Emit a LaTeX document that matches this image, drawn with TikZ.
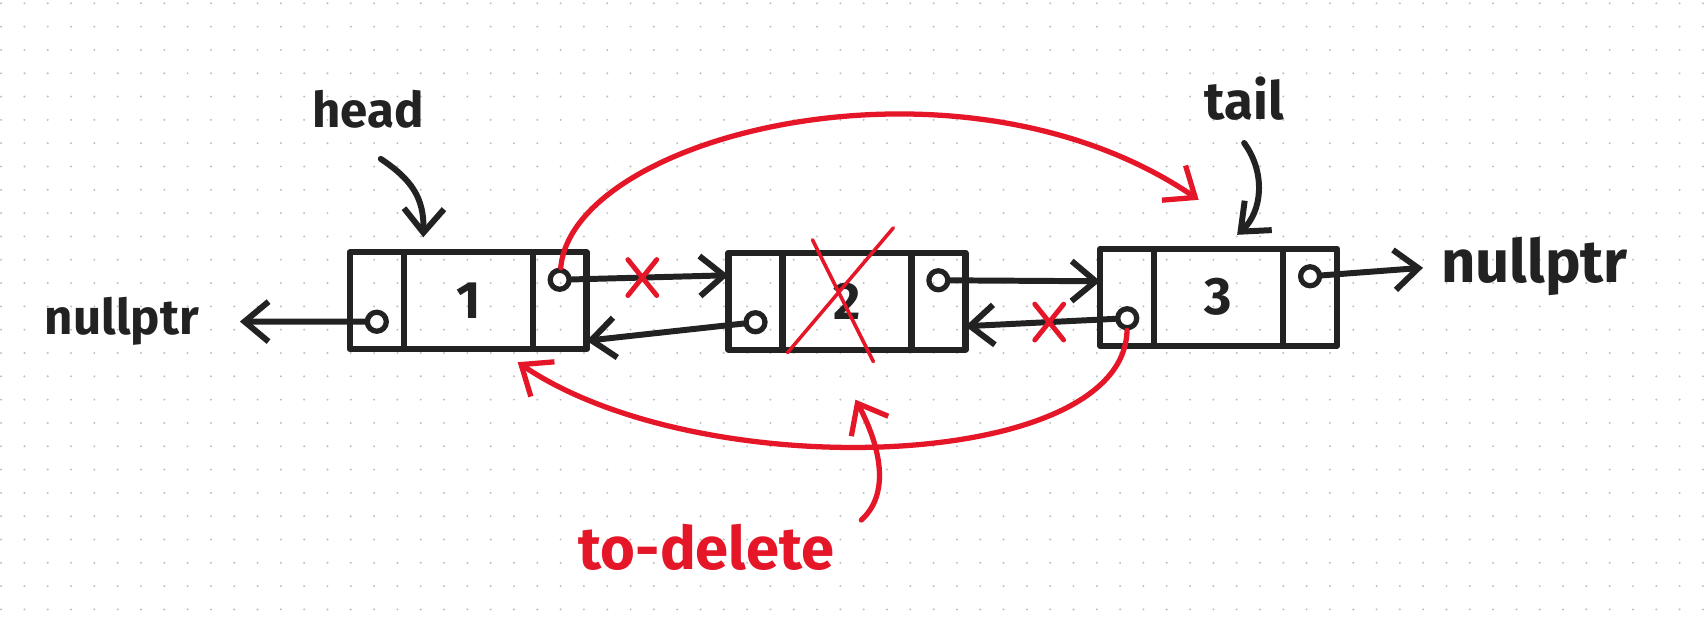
\documentclass[tikz,border=0pt]{standalone}
\usepackage{fontspec}
\setmainfont{Fira Sans}
\usetikzlibrary{positioning,arrows.meta,shapes.misc}
\definecolor{ink}{RGB}{34,34,34}
\definecolor{delred}{RGB}{228,22,40}
\definecolor{dotgray}{RGB}{190,190,190}

\begin{document}
\begin{tikzpicture}[line cap=round,line join=round,
  valbox/.style={draw=ink,line width=1.8pt,minimum width=12.9mm,minimum height=9.7mm,inner sep=0pt,outer sep=0pt,text=ink,font=\fontsize{15}{18}\selectfont\bfseries},
  ptrbox/.style={draw=ink,line width=1.8pt,minimum width=5.4mm,minimum height=9.7mm,inner sep=0pt,outer sep=0pt},
  ptrdot/.style={circle,draw=ink,line width=1.5pt,minimum size=1.9mm,inner sep=0pt},
  lbl/.style={text=ink,inner sep=1pt,font=\fontsize{14}{17}\selectfont\bfseries},
  ptr/.style={draw=ink,line width=1.7pt,-{Straight Barb[length=2.4mm,width=4mm]}},
  redarc/.style={draw=delred,line width=1.5pt,-{Straight Barb[length=2.6mm,width=4.2mm]}},
  delx/.style={cross out,draw=delred,line width=1.4pt,minimum width=2.4mm,minimum height=3.1mm,inner sep=0pt}]
\def\dy{2.1mm}
% dotted paper
\fill[white] (0,0) rectangle (17.04,6.27);
\foreach \i in {0,...,73}{\foreach \j in {0,...,26}{\fill[dotgray] ({\i*0.2333},{6.2367-\j*0.2333}) circle (0.011);}}
\useasboundingbox (0,0) rectangle (17.04,6.27);
% the three list nodes
\node[valbox] (v1) at (4.675,3.26) {1};\node[ptrbox,left=0pt of v1] (p1) {};\node[ptrbox,right=0pt of v1] (n1) {};
\node[valbox] (v2) at (8.465,3.255) {2};\node[ptrbox,left=0pt of v2] (p2) {};\node[ptrbox,right=0pt of v2] (n2) {};
\node[valbox] (v3) at (12.185,3.295) {3};\node[ptrbox,left=0pt of v3] (p3) {};\node[ptrbox,right=0pt of v3] (n3) {};
\node[ptrdot,yshift=-\dy] (p1c) at (p1.center) {};\node[ptrdot,yshift=\dy] (n1c) at (n1.center) {};
\node[ptrdot,yshift=-\dy] (p2c) at (p2.center) {};\node[ptrdot,yshift=\dy] (n2c) at (n2.center) {};
\node[ptrdot,yshift=-\dy] (p3c) at (p3.center) {};\node[ptrdot,yshift=\dy] (n3c) at (n3.center) {};
% labels
\node[lbl,anchor=base] (head) at (3.67,4.99) {head};
\node[lbl,anchor=base,font=\fontsize{15}{18}\selectfont\bfseries] (tail) at (12.44,5.07) {tail};
\node[lbl,anchor=base east] (nullL) at (2.02,2.92) {nullptr};
\node[lbl,anchor=base west,font=\fontsize{17}{20}\selectfont\bfseries] (nullR) at (14.37,3.44) {nullptr};
\node[lbl,anchor=base,text=delred,font=\fontsize{17}{20}\selectfont\bfseries] (todel) at (7.06,0.57) {to-delete};
% links
\draw[ptr,shorten >=3.7mm] (p1c) -- (nullL.east);
\draw[ptr] (n1c) -- node[delx,pos=0.45] (x1) {} ([yshift=2.6mm]p2.west);
\draw[ptr] (p2c) -- ([yshift=-4mm]n1.east);
\draw[ptr] (n2c) -- ([yshift=1.6mm]p3.west);
\draw[ptr] (p3c) -- node[delx,pos=0.44] (x2) {} ([yshift=-2.5mm]n2.east);
\draw[ptr,shorten >=1.4mm] (n3c) -- (nullR.west);
\draw[ptr] ([xshift=1.3mm,yshift=-2.6mm]head.south) .. controls +(0.3,-0.2) and +(0.01,0.4) .. ([xshift=-4.5mm,yshift=1.5mm]v1.north);
\draw[ptr] ([yshift=-1.8mm]tail.south) .. controls +(0.22,-0.3) and +(0.25,0.23) .. ([xshift=1.85mm,yshift=1.4mm]v3.north);
% crossed out node and new links
\draw[delred,line width=1pt] ([shift={(-0.345,0.615)}]v2.center) -- ([shift={(0.265,-0.605)}]v2.center);
\draw[delred,line width=1pt] ([shift={(0.465,0.735)}]v2.center) -- ([shift={(-0.595,-0.515)}]v2.center);
\draw[redarc] (n1c) .. controls +(0.13,1.45) and +(-2.385,1.625) .. ([xshift=-2mm,yshift=4.9mm]v3.north);
\draw[redarc] (p3c) .. controls +(-0.03,-1.54) and +(1.83,-1.245) .. ([xshift=-1.5mm,yshift=-1.3mm]v1.south east);
\draw[redarc] ([xshift=2.3mm]todel.north east) .. controls +(0.33,0.3) and +(0.2,-0.37) .. ([xshift=0.85mm,yshift=-5mm]v2.south);
\end{tikzpicture}
\end{document}
